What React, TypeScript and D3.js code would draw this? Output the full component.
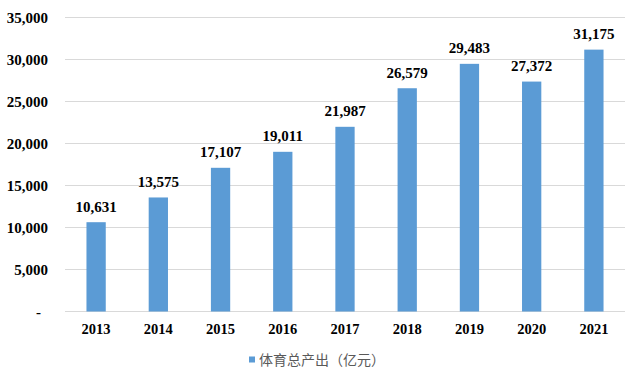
import React, { useEffect, useRef } from 'react';
import * as d3 from 'd3';

const years = ['2013', '2014', '2015', '2016', '2017', '2018', '2019', '2020', '2021'];
const output = [10631, 13575, 17107, 19011, 21987, 26579, 29483, 27372, 31175];
const yTicks = [0, 5000, 10000, 15000, 20000, 25000, 30000, 35000];
const seriesName = '体育总产出（亿元）';

const App = () => {
    const ref = useRef<SVGSVGElement>(null);

    useEffect(() => {
        if (!ref.current) return;
        const svg = d3.select(ref.current);
        svg.selectAll('*').remove();

        const left = 65, right = 625, top = 17.5, bottom = 311.5;
        const serif = '"Liberation Serif", "Times New Roman", serif';

        const x = d3.scaleBand().domain(years).range([left, right]).paddingInner(0.69).paddingOuter(0.345);
        const y = d3.scaleLinear().domain([0, 35000]).range([bottom, top]);
        const fmt = d3.format(',');

        // gridlines
        svg.append('g')
            .selectAll('line')
            .data(yTicks)
            .enter()
            .append('line')
            .attr('x1', left)
            .attr('x2', right)
            .attr('y1', d => y(d))
            .attr('y2', d => y(d))
            .attr('stroke', '#d9d9d9')
            .attr('stroke-width', 1);

        // y labels
        svg.append('g')
            .selectAll('text')
            .data(yTicks)
            .enter()
            .append('text')
            .attr('x', d => (d === 0 ? 41 : 48))
            .attr('y', d => y(d) + 5.5)
            .attr('text-anchor', 'end')
            .attr('font-family', serif)
            .attr('font-weight', 'bold')
            .attr('font-size', 15)
            .attr('fill', '#000')
            .text(d => (d === 0 ? '-' : fmt(d)));

        // bars
        svg.append('g')
            .selectAll('rect')
            .data(output)
            .enter()
            .append('rect')
            .attr('x', (d, i) => x(years[i])!)
            .attr('y', d => y(d))
            .attr('width', x.bandwidth())
            .attr('height', d => bottom - y(d))
            .attr('fill', '#5b9bd5');

        // value labels
        svg.append('g')
            .selectAll('text')
            .data(output)
            .enter()
            .append('text')
            .attr('x', (d, i) => x(years[i])! + x.bandwidth() / 2)
            .attr('y', d => y(d) - 10.5)
            .attr('text-anchor', 'middle')
            .attr('font-family', serif)
            .attr('font-weight', 'bold')
            .attr('font-size', 15)
            .attr('fill', '#000')
            .text(d => fmt(d));

        // x labels
        svg.append('g')
            .selectAll('text')
            .data(years)
            .enter()
            .append('text')
            .attr('x', d => x(d)! + x.bandwidth() / 2)
            .attr('y', 334)
            .attr('text-anchor', 'middle')
            .attr('font-family', serif)
            .attr('font-weight', 'bold')
            .attr('font-size', 14.5)
            .attr('fill', '#000')
            .text(d => d);

        // legend
        const lg = svg.append('g');
        lg.append('rect')
            .attr('x', 249)
            .attr('y', 356.5)
            .attr('width', 6)
            .attr('height', 6)
            .attr('fill', '#5b9bd5');
        lg.append('text')
            .attr('x', 259)
            .attr('y', 365)
            .attr('font-family', '"Noto Sans CJK SC", sans-serif')
            .attr('font-size', 14)
            .attr('fill', '#595959')
            .text(seriesName);
    }, []);

    return (
        <svg ref={ref} width={629} height={374}
            style={{ position: 'absolute', left: 0, top: 0, background: '#fff' }} />
    );
};

export default App;
